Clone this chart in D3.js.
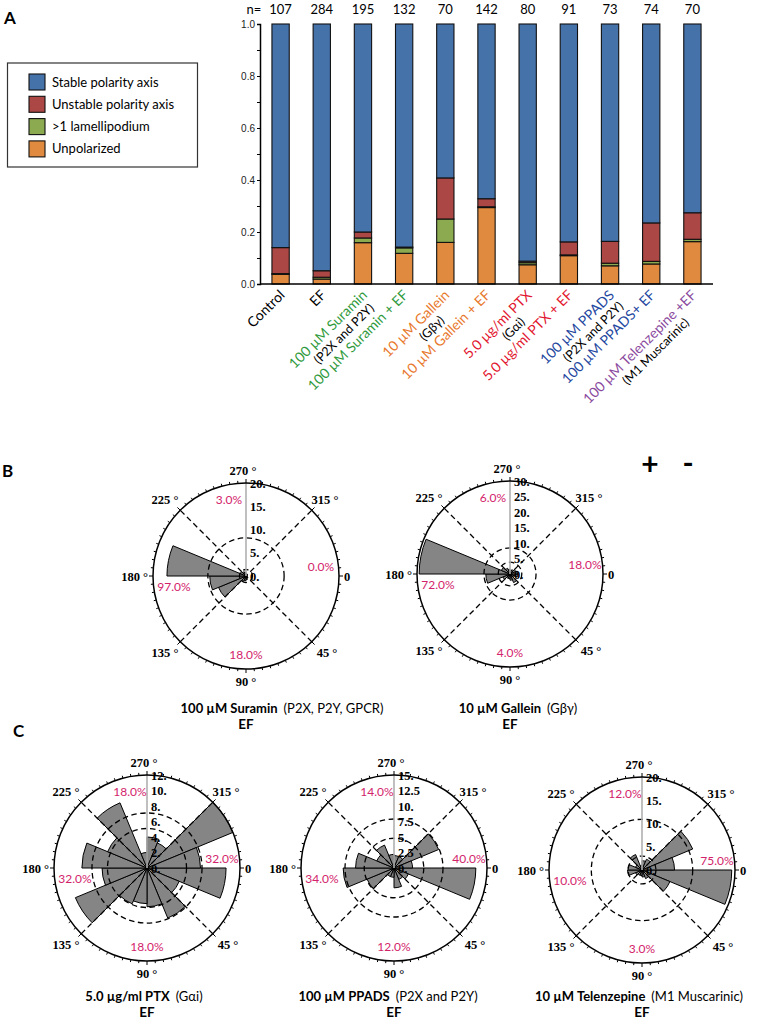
<!DOCTYPE html>
<html>
<head>
<meta charset="utf-8">
<script src="https://cdn.jsdelivr.net/npm/d3@7"></script>
<style>
  body { margin: 0; background: #fff; }
  svg { display: block; font-family: Lato, "Open Sans", sans-serif; }
</style>
</head>
<body>
<svg id="fig" width="759" height="1025"></svg>
<script>
// ---------- panel A : polarity fractions ----------
var categories = ["Control", "EF", "Suramin", "Suramin+EF", "Gallein", "Gallein+EF",
                  "PTX", "PTX+EF", "PPADS", "PPADS+EF", "Telenzepine+EF"];
var nCounts = [107, 284, 195, 132, 70, 142, 80, 91, 73, 74, 70];
var unpolarized   = [0.037, 0.019, 0.159, 0.118, 0.160, 0.294, 0.074, 0.109, 0.070, 0.077, 0.163];
var lamellipodium = [0.003, 0.007, 0.018, 0.021, 0.090, 0.003, 0.008, 0.003, 0.010, 0.010, 0.009];
var unstable      = [0.100, 0.025, 0.023, 0.003, 0.158, 0.031, 0.006, 0.050, 0.084, 0.148, 0.102];
var stable        = [0.860, 0.949, 0.800, 0.858, 0.592, 0.672, 0.912, 0.838, 0.836, 0.765, 0.726];
var seriesKeys  = ["unpol", "lam", "unstable", "stable"];
var legendNames = ["Stable polarity axis", "Unstable polarity axis", ">1 lamellipodium", "Unpolarized"];
var legendKeys  = ["stable", "unstable", "lam", "unpol"];
var labelLine1 = ["Control", "EF", "100 µM Suramin", "100 µM Suramin + EF", "10 µM Gallein",
                  "10 µM Gallein + EF", "5.0 µg/ml PTX", "5.0 µg/ml PTX + EF", "100 µM PPADS",
                  "100 µM PPADS+ EF", "100 µM Telenzepine +EF"];
var labelLine2 = ["", "", "(P2X and P2Y)", "", "(Gβγ)", "", "(Gαi)", "", "(P2X and P2Y)", "", "(M1 Muscarinic)"];
var labelColors = ["#000", "#000", "#2f9a3c", "#2f9a3c", "#e8782c", "#e8782c",
                   "#e2162f", "#e2162f", "#2447a0", "#2447a0", "#8a4a9e"];
var yTicks = [0, 0.2, 0.4, 0.6, 0.8, 1.0];

// ---------- panels B, C : rose histograms (16 bins of 22.5°, clockwise from 0) ----------
var roseSuramin     = [0.3, 0.3, 0.5, 0.8, 1.0, 1.2, 6.4, 7.8, 17.0, 1.3, 1.0, 0.8, 0.5, 0.3, 0.3, 0.3];
var roseGallein     = [2.5, 1.5, 3.0, 2.0, 1.5, 1.5, 2.5, 7.8, 29.3, 3.0, 2.0, 1.5, 1.0, 1.5, 2.0, 2.5];
var rosePTX         = [10.2, 4.5, 7.0, 5.0, 4.6, 5.0, 10.0, 5.8, 8.4, 5.5, 9.1, 2.0, 4.0, 3.5, 12.0, 6.9];
var rosePPADS       = [13.2, 2.5, 2.0, 3.2, 1.5, 1.5, 4.7, 8.2, 6.2, 3.0, 4.0, 2.2, 2.0, 2.0, 7.8, 3.0];
var roseTelenzepine = [19.3, 6.5, 2.0, 1.5, 1.2, 1.2, 1.5, 3.1, 3.0, 1.5, 3.6, 1.0, 2.0, 2.5, 11.8, 7.0];
var ringsSuramin = [1.4, 8.2], ringsGallein = [3.8, 8.4], ringsPTX = [5.1, 7.1],
    ringsPPADS = [4.8, 7.9], ringsTelenzepine = [3.0, 10.9];
// quadrant percentages: top, right, bottom, left
var pctSuramin = ["3.0%", "0.0%", "18.0%", "97.0%"];
var pctGallein = ["6.0%", "18.0%", "4.0%", "72.0%"];
var pctPTX = ["18.0%", "32.0%", "18.0%", "32.0%"];
var pctPPADS = ["14.0%", "40.0%", "12.0%", "34.0%"];
var pctTelenzepine = ["12.0%", "75.0%", "3.0%", "10.0%"];

var colors = { stable: "#4672aa", unstable: "#ab4744", lam: "#8cab50", unpol: "#df8a3e" };
var svg = d3.select("#fig");

// ===== panel A =====
var rows = categories.map(function(c, i) {
  return { cat: c, unpol: unpolarized[i], lam: lamellipodium[i], unstable: unstable[i], stable: stable[i] };
});
var x = d3.scaleBand().domain(categories).range([260, 713]).paddingInner(0.58).paddingOuter(0.29);
var y = d3.scaleLinear().domain([0, 1]).range([284, 24]);

var stack = d3.stack().keys(seriesKeys)(rows);
svg.append("g").selectAll("g").data(stack).join("g")
    .attr("fill", function(d) { return colors[d.key]; })
  .selectAll("rect").data(function(d) { return d; }).join("rect")
    .attr("x", function(d) { return x(d.data.cat); })
    .attr("width", x.bandwidth())
    .attr("y", function(d) { return y(Math.min(d[1], 1)); })
    .attr("height", function(d) { return y(d[0]) - y(Math.min(d[1], 1)); })
    .attr("stroke", "#111").attr("stroke-width", 1.1);

var yAxis = d3.axisLeft(y).tickValues(d3.range(0, 1.01, 0.1)).tickSize(3)
    .tickFormat(function(d) { return Math.round(d * 10) % 2 === 0 ? d3.format(".1f")(d) : ""; });
var ya = svg.append("g").attr("transform", "translate(260,0)").call(yAxis);
ya.select(".domain").attr("stroke", "#000").attr("stroke-width", 1.5);
ya.selectAll("text").attr("font-size", 10).attr("fill", "#222").attr("x", -5);
svg.append("line").attr("x1", 260).attr("x2", 713).attr("y1", y(0)).attr("y2", y(0))
    .attr("stroke", "#000").attr("stroke-width", 1.5);

svg.append("text").attr("x", 254).attr("y", 14).attr("text-anchor", "middle")
    .attr("font-size", 13).text("n=");
svg.append("g").selectAll("text").data(categories).join("text")
    .attr("x", function(d) { return x(d) + x.bandwidth() / 2; })
    .attr("y", 14).attr("text-anchor", "middle").attr("font-size", 13)
    .text(function(d, i) { return nCounts[i]; });

var lab = svg.append("g").selectAll("g").data(categories).join("g")
    .attr("transform", function(d) { return "translate(" + (x(d) + x.bandwidth() / 2 + 5) + ",296) rotate(-45)"; });
lab.append("text").attr("text-anchor", "end").attr("font-size", 14)
    .attr("fill", function(d, i) { return labelColors[i]; })
    .text(function(d, i) { return labelLine1[i]; });
lab.each(function(d, i) {
  if (!labelLine2[i]) return;
  var g = d3.select(this);
  var w = g.select("text").node().getComputedTextLength();
  g.append("text").attr("text-anchor", "middle").attr("font-size", 12.5)
      .attr("x", -w / 2 + 8).attr("y", 14).attr("fill", "#000").text(labelLine2[i]);
});

svg.append("text").attr("x", 4).attr("y", 24).attr("font-size", 17).attr("font-weight", "bold").text("A");

// legend
var lg = svg.append("g");
lg.append("rect").attr("x", 7.5).attr("y", 63).attr("width", 190).attr("height", 104)
    .attr("fill", "#fff").attr("stroke", "#333").attr("stroke-width", 1.2);
legendKeys.forEach(function(k, i) {
  var yy = 82 + i * 22.3;
  lg.append("rect").attr("x", 29).attr("y", yy - 8).attr("width", 16).attr("height", 16)
      .attr("fill", colors[k]).attr("stroke", "#111").attr("stroke-width", 1.1);
  lg.append("text").attr("x", 52).attr("y", yy + 4.5).attr("font-size", 13).text(legendNames[i]);
});

// ===== rose plots =====
var panels = [
  { cx: 246, cy: 576, max: 20, step: 5,  bins: roseSuramin, rings: ringsSuramin, pct: pctSuramin,
    bold: "100 µM Suramin", sub: "(P2X, P2Y, GPCR)", tx: 282, ty: 713 },
  { cx: 510, cy: 574, max: 30, step: 5,  bins: roseGallein, rings: ringsGallein, pct: pctGallein,
    bold: "10 µM Gallein", sub: "(Gβγ)", tx: 518, ty: 713 },
  { cx: 147, cy: 868, max: 12, step: 2,  bins: rosePTX, rings: ringsPTX, pct: pctPTX,
    bold: "5.0 µg/ml PTX", sub: "(Gαi)", tx: 144, ty: 1001 },
  { cx: 394, cy: 868, max: 15, step: 2.5, bins: rosePPADS, rings: ringsPPADS, pct: pctPPADS,
    bold: "100 µM PPADS", sub: "(P2X and P2Y)", tx: 388, ty: 1001 },
  { cx: 642, cy: 870, max: 20, step: 5,  bins: roseTelenzepine, rings: ringsTelenzepine, pct: pctTelenzepine,
    bold: "10 µM Telenzepine", sub: "(M1 Muscarinic)", tx: 639, ty: 1001 }
];
var R = 93;
var rad = Math.PI / 180;
var serif = "'Liberation Serif', 'DejaVu Serif', serif";

panels.forEach(function(p) {
  var g = svg.append("g").attr("transform", "translate(" + p.cx + "," + p.cy + ")");
  var r = d3.scaleLinear().domain([0, p.max]).range([0, R]);
  var binW = 360 / p.bins.length;

  // wedges (screen angle clockwise from east -> d3 angle clockwise from north)
  var arc = d3.arc().innerRadius(0);
  g.selectAll("path.w").data(p.bins).join("path").attr("class", "w")
      .attr("d", function(v, i) {
        return arc({ outerRadius: r(v), startAngle: (i * binW + 90) * rad, endAngle: ((i + 1) * binW + 90) * rad });
      })
      .attr("fill", "#858585").attr("stroke", "#000").attr("stroke-width", 1);

  // dashed diagonals and rings
  [45, 135].forEach(function(a) {
    g.append("line")
        .attr("x1", R * Math.cos(a * rad)).attr("y1", R * Math.sin(a * rad))
        .attr("x2", -R * Math.cos(a * rad)).attr("y2", -R * Math.sin(a * rad))
        .attr("stroke", "#000").attr("stroke-width", 1.3).attr("stroke-dasharray", "5.5,3.5");
  });
  g.selectAll("circle.ring").data(p.rings).join("circle").attr("class", "ring")
      .attr("r", function(v) { return r(v); })
      .attr("fill", "none").attr("stroke", "#000").attr("stroke-width", 1.3).attr("stroke-dasharray", "5.5,3.5");

  // radial axis
  g.append("line").attr("x1", 0).attr("y1", 0).attr("x2", 0).attr("y2", -R)
      .attr("stroke", "#b0b0b0").attr("stroke-width", 1.6);
  var rt = d3.range(0, p.max + p.step / 2, p.step);
  g.selectAll("text.rt").data(rt).join("text").attr("class", "rt")
      .attr("x", 4).attr("y", function(v) { return -r(v) + 4.5; })
      .attr("font-family", serif).attr("font-weight", "bold").attr("font-size", 12.5)
      .text(function(v) { return Number.isInteger(v) ? v + "." : String(v); });

  // outer circle and ticks
  g.append("circle").attr("r", R).attr("fill", "none").attr("stroke", "#000").attr("stroke-width", 1.5);
  g.selectAll("line.tk").data(d3.range(0, 360, 5)).join("line").attr("class", "tk")
      .attr("x1", function(a) { return R * Math.cos(a * rad); })
      .attr("y1", function(a) { return R * Math.sin(a * rad); })
      .attr("x2", function(a) { return (R + (a % 45 === 0 ? 4 : 2.5)) * Math.cos(a * rad); })
      .attr("y2", function(a) { return (R + (a % 45 === 0 ? 4 : 2.5)) * Math.sin(a * rad); })
      .attr("stroke", "#000").attr("stroke-width", 1);

  // angle labels
  var angLab = [
    { t: "0", x: R + 5, y: 4.5, a: "start" },
    { t: "45 °", x: 81, y: 81, a: "middle" },
    { t: "90 °", x: 0, y: R + 17, a: "middle" },
    { t: "135 °", x: -81, y: 81, a: "middle" },
    { t: "180 °", x: -R - 5, y: 4.5, a: "end" },
    { t: "225 °", x: -81, y: -72, a: "middle" },
    { t: "270 °", x: -3, y: -R - 8, a: "middle" },
    { t: "315 °", x: 79, y: -72, a: "middle" }
  ];
  g.selectAll("text.al").data(angLab).join("text").attr("class", "al")
      .attr("x", function(d) { return d.x; }).attr("y", function(d) { return d.y; })
      .attr("text-anchor", function(d) { return d.a; })
      .attr("font-family", serif).attr("font-weight", "bold").attr("font-size", 12.5)
      .text(function(d) { return d.t; });

  // quadrant percentages
  var pp = [[-17, -72], [75, -5], [0, 83], [-72, 15]];
  g.selectAll("text.pc").data(p.pct).join("text").attr("class", "pc")
      .attr("x", function(d, i) { return pp[i][0]; }).attr("y", function(d, i) { return pp[i][1]; })
      .attr("text-anchor", "middle").attr("font-size", 12).attr("fill", "#d3236b")
      .text(function(d) { return d; });

  // title
  var t = svg.append("text").attr("x", p.tx).attr("y", p.ty).attr("text-anchor", "middle").attr("font-size", 13);
  t.append("tspan").attr("font-weight", "bold").text(p.bold);
  t.append("tspan").attr("dx", 6).text(p.sub);
  svg.append("text").attr("x", p.cx).attr("y", p.ty + 16).attr("text-anchor", "middle")
      .attr("font-size", 13.5).attr("font-weight", "bold").text("EF");
});

svg.append("text").attr("x", 2).attr("y", 477).attr("font-size", 17).attr("font-weight", "bold").text("B");
svg.append("text").attr("x", 13).attr("y", 737).attr("font-size", 17).attr("font-weight", "bold").text("C");
svg.append("text").attr("x", 650).attr("y", 475).attr("text-anchor", "middle")
    .attr("font-size", 30).attr("font-weight", "bold").text("+");
svg.append("text").attr("x", 688).attr("y", 474).attr("text-anchor", "middle")
    .attr("font-size", 30).attr("font-weight", "bold").text("-");
</script>
</body>
</html>
